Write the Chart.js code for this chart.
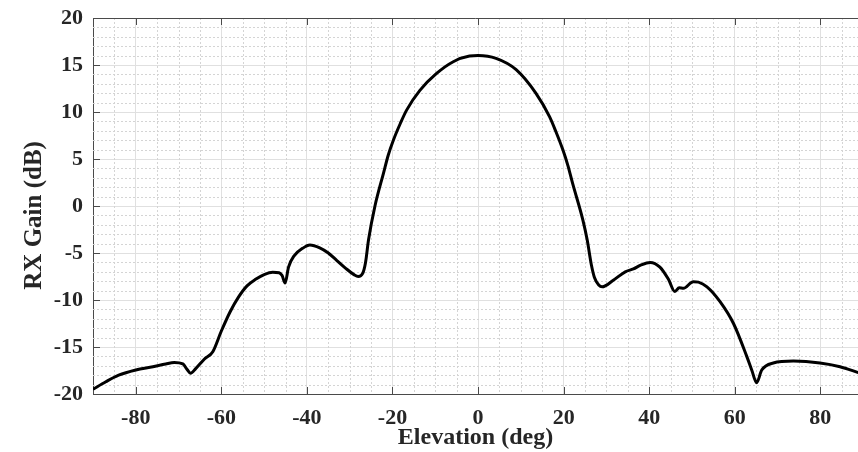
<!DOCTYPE html>
<html>
<head>
<meta charset="utf-8">
<script src="https://cdn.jsdelivr.net/npm/chart.js@4.4.1/dist/chart.umd.min.js"></script>
<style>
  html, body { margin: 0; padding: 0; background: #fff; }
  #wrap { width: 858px; height: 452px; }
</style>
</head>
<body>
<div id="wrap"><canvas id="gainChart"></canvas></div>
<script>
// elevation angle (deg) and RX gain (dB)
const elevation = [
  -90, -87, -84, -80, -76, -73, -71, -69, -68, -67.2, -66, -64, -62, -60, -58, -56,
  -54, -52, -50, -48, -46.5, -45.8, -45.1, -44.3, -43, -41, -39.3, -37, -35, -33,
  -31, -29, -28, -27, -26.3, -25.6, -24.1, -22.1, -21, -19.8, -18.2, -16.7, -13.6, -9.7, -5.8,
  -2, 0, 4.2, 8.9, 13.5, 16.7, 18.2, 19.8, 21, 22.1, 24.5, 25.5, 26.5, 27.2, 28.2, 29, 31.6,
  34.4, 36.3, 38, 40.2, 42.5, 44.5, 46, 47, 48, 50.3, 51.5, 53.5, 56.6, 59.7, 62.8,
  64, 65.1, 66.3, 69, 73.7, 79.9, 84.6, 88.7, 90
];
const gain = [
  -19.5, -18.7, -18.0, -17.45, -17.1, -16.8, -16.65, -16.8, -17.4, -17.8, -17.3, -16.3, -15.5, -13.3, -11.3, -9.7,
  -8.5, -7.8, -7.3, -7.05, -7.1, -7.4, -8.2, -6.5, -5.3, -4.5, -4.15, -4.45, -5.0, -5.8,
  -6.6, -7.3, -7.5, -7.2, -6.0, -3.6, 0, 3.5, 5.4, 7.0, 8.75, 10.2, 12.3, 14.1, 15.35,
  15.95, 16.0, 15.7, 14.5, 12.0, 9.5, 7.9, 6.0, 4.3, 2.4, -1.5, -3.6, -6.3, -7.6, -8.4, -8.6, -7.9,
  -7.0, -6.7, -6.3, -6.0, -6.5, -7.8, -9.1, -8.7, -8.75, -8.05, -8.1, -8.6, -10.2, -12.5, -16.0,
  -17.5, -18.8, -17.45, -16.7, -16.5, -16.7, -17.1, -17.7, -17.9
];

const xTicks = [-80, -60, -40, -20, 0, 20, 40, 60, 80];
const xMinorTicks = [-85, -75, -70, -65, -55, -50, -45, -35, -30, -25, -15, -10, -5,
                     5, 10, 15, 25, 30, 35, 45, 50, 55, 65, 70, 75, 85];
const yMinorStep = 1;

const serif = "'Liberation Serif', 'Times New Roman', serif";
const axisColor = '#4a4a4a';

// dotted minor grid under the curve
const minorGrid = {
  id: 'minorGrid',
  beforeDatasetsDraw(chart) {
    const { ctx, chartArea: a, scales: { x, y } } = chart;
    ctx.save();
    ctx.strokeStyle = '#d4d4d4';
    ctx.lineWidth = 1;
    ctx.setLineDash([2, 2]);
    ctx.beginPath();
    xMinorTicks.forEach(v => {
      const px = Math.round(x.getPixelForValue(v)) + 0.5;
      ctx.moveTo(px, a.top);
      ctx.lineTo(px, a.bottom);
    });
    for (let v = y.min; v <= y.max; v += yMinorStep) {
      if (v % 5 === 0) continue;
      const py = Math.round(y.getPixelForValue(v)) + 0.5;
      ctx.moveTo(a.left, py);
      ctx.lineTo(a.right, py);
    }
    ctx.stroke();
    ctx.restore();
  }
};

// top edge of the box and the inward tick marks
const boxFrame = {
  id: 'boxFrame',
  afterDraw(chart) {
    const { ctx, chartArea: a, scales: { x, y } } = chart;
    const len = 7;
    ctx.save();
    ctx.strokeStyle = axisColor;
    ctx.lineWidth = 1;
    ctx.beginPath();
    ctx.moveTo(a.left, a.top + 0.5);
    ctx.lineTo(a.right, a.top + 0.5);
    xTicks.forEach(v => {
      const px = Math.round(x.getPixelForValue(v)) + 0.5;
      ctx.moveTo(px, a.top);
      ctx.lineTo(px, a.top + len);
      ctx.moveTo(px, a.bottom);
      ctx.lineTo(px, a.bottom - len);
    });
    y.ticks.forEach(t => {
      const py = Math.round(y.getPixelForValue(t.value)) + 0.5;
      ctx.moveTo(a.left, py);
      ctx.lineTo(a.left + len, py);
    });
    ctx.stroke();
    ctx.restore();
  }
};

new Chart(document.getElementById('gainChart'), {
  type: 'line',
  data: {
    datasets: [{
      data: elevation.map((e, i) => ({ x: e, y: gain[i] })),
      borderColor: '#000',
      borderWidth: 3,
      pointRadius: 0,
      fill: false,
      cubicInterpolationMode: 'monotone'
    }]
  },
  options: {
    responsive: true,
    maintainAspectRatio: false,
    animation: false,
    layout: { padding: { top: 18, right: 0, left: 0, bottom: 0 } },
    plugins: {
      legend: { display: false },
      tooltip: { enabled: false }
    },
    scales: {
      x: {
        type: 'linear',
        min: -90,
        max: 88.8,
        afterBuildTicks: scale => { scale.ticks = xTicks.map(v => ({ value: v })); },
        afterFit: scale => { scale.height = 58; },
        grid: { color: '#e0e0e0', lineWidth: 1, drawTicks: false },
        border: { display: true, color: axisColor, width: 1 },
        ticks: {
          color: '#262626',
          padding: 11,
          maxRotation: 0,
          font: { family: serif, size: 22, weight: 'bold' }
        },
        title: {
          display: true,
          text: 'Elevation (deg)',
          color: '#262626',
          padding: { top: 0, bottom: 0 },
          font: { family: serif, size: 24, weight: 'bold', lineHeight: 1.2 }
        }
      },
      y: {
        min: -20,
        max: 20,
        afterFit: scale => {
          scale.width = 93;
          scale.paddingTop = 0;
          scale.paddingBottom = 0;
        },
        grid: { color: '#e0e0e0', lineWidth: 1, drawTicks: false },
        border: { display: true, color: axisColor, width: 1 },
        ticks: {
          stepSize: 5,
          color: '#262626',
          padding: 10,
          font: { family: serif, size: 22, weight: 'bold' }
        },
        title: {
          display: true,
          text: 'RX Gain (dB)   ',
          color: '#262626',
          padding: { top: 20, bottom: 0 },
          font: { family: serif, size: 25, weight: 'bold', lineHeight: 1.2 }
        }
      }
    }
  },
  plugins: [minorGrid, boxFrame]
});
</script>
</body>
</html>
